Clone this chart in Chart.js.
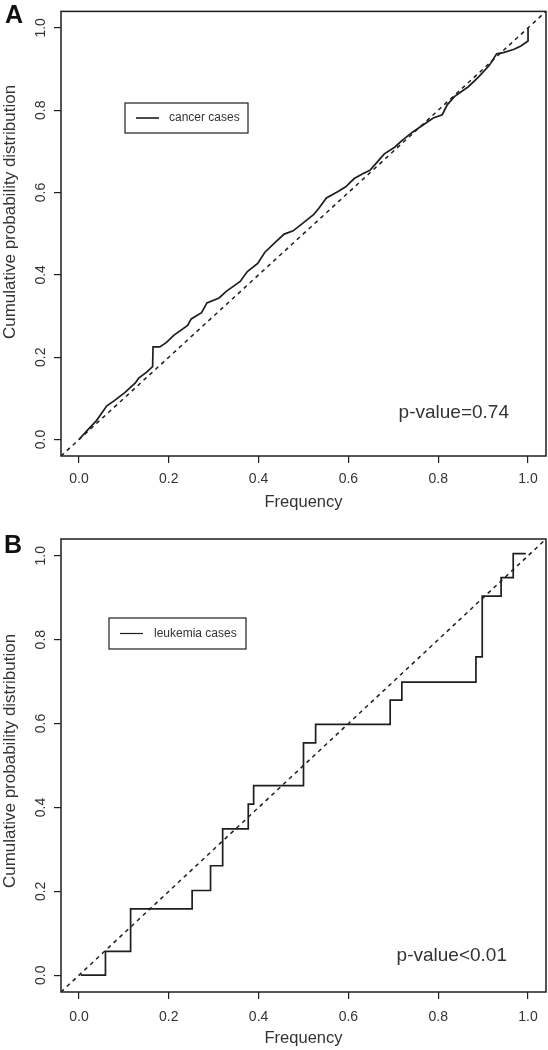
<!DOCTYPE html>
<html>
<head>
<meta charset="utf-8">
<script src="https://cdn.jsdelivr.net/npm/chart.js@4.4.1/dist/chart.umd.min.js"></script>
<style>
  body { margin: 0; background: #fff; }
  .panel { width: 548px; height: 525px; }
</style>
</head>
<body>
<div class="panel"><canvas id="chartA" width="548" height="525"></canvas></div>
<div class="panel"><canvas id="chartB" width="548" height="525"></canvas></div>
<script>
// ticks shared by both panels
const tickVals = [0, 0.2, 0.4, 0.6, 0.8, 1.0]
const tickLabels = ['0.0', '0.2', '0.4', '0.6', '0.8', '1.0']
const diagVals = [-0.04, 1.04]

// panel A - cancer cases
const cancerX = [0, 0.02, 0.039, 0.062, 0.078, 0.102, 0.125, 0.133, 0.15, 0.164, 0.165, 0.18, 0.195, 0.211,
  0.242, 0.25, 0.273, 0.285, 0.312, 0.328, 0.359, 0.375, 0.398, 0.414, 0.437, 0.457, 0.477, 0.5, 0.523,
  0.535, 0.551, 0.578, 0.594, 0.613, 0.633, 0.648, 0.664, 0.68, 0.703, 0.719, 0.742, 0.758, 0.789, 0.809,
  0.82, 0.836, 0.867, 0.89, 0.914, 0.93, 0.945, 0.969, 0.984, 1.0, 1.0]
const cancerY = [0, 0.024, 0.046, 0.082, 0.094, 0.114, 0.137, 0.149, 0.163, 0.177, 0.225, 0.225, 0.236, 0.253,
  0.277, 0.293, 0.308, 0.332, 0.344, 0.36, 0.384, 0.408, 0.428, 0.455, 0.479, 0.499, 0.507, 0.527, 0.547,
  0.563, 0.587, 0.603, 0.614, 0.634, 0.646, 0.654, 0.674, 0.694, 0.71, 0.726, 0.746, 0.758, 0.781, 0.789,
  0.813, 0.833, 0.857, 0.881, 0.909, 0.937, 0.94, 0.948, 0.956, 0.968, 1.0]

// panel B - leukemia cases, step function
const leukX = [0.004, 0.059, 0.115, 0.252, 0.293, 0.320, 0.377, 0.389, 0.500, 0.527, 0.693, 0.719, 0.884,
  0.898, 0.940, 0.967, 0.995]
const leukY = [0, 0.057, 0.158, 0.202, 0.261, 0.349, 0.408, 0.452, 0.554, 0.598, 0.656, 0.699, 0.759,
  0.904, 0.948, 1.005, 1.005]

const FONT = '"Liberation Sans", Arial, Helvetica, sans-serif'
const INK = '#1e1e1e'
const TXT = '#333'

const toPts = (xs, ys) => xs.map((x, i) => ({ x: x, y: ys[i] }))

// box, panel letter, y title, legend and p-value
const decor = {
  id: 'decor',
  afterDraw(chart, args, o) {
    const { ctx, chartArea: a } = chart
    ctx.save()
    ctx.strokeStyle = INK
    ctx.lineWidth = 1.5
    ctx.strokeRect(a.left, a.top, a.right - a.left, a.bottom - a.top)

    ctx.fillStyle = '#111'
    ctx.font = 'bold 25px ' + FONT
    ctx.textAlign = 'center'
    ctx.textBaseline = 'middle'
    ctx.fillText(o.letter, o.letterX, o.letterY)

    // y axis title, rotated like R's ylab
    ctx.save()
    ctx.translate(10, o.yTitleY)
    ctx.rotate(-Math.PI / 2)
    ctx.fillStyle = TXT
    ctx.font = '17px ' + FONT
    ctx.fillText('Cumulative probability distribution', 0, 0)
    ctx.restore()

    ctx.lineWidth = 1.2
    ctx.strokeRect(o.leg[0], o.leg[1], o.leg[2], o.leg[3])
    const my = o.leg[1] + o.leg[3] / 2
    ctx.lineWidth = o.legLw
    ctx.beginPath()
    ctx.moveTo(o.leg[0] + 11, my)
    ctx.lineTo(o.leg[0] + 34, my)
    ctx.stroke()
    ctx.fillStyle = TXT
    ctx.font = '12px ' + FONT
    ctx.textAlign = 'left'
    ctx.fillText(o.legText, o.leg[0] + o.legTextDx, my)

    ctx.font = '19px ' + FONT
    ctx.textAlign = 'right'
    ctx.fillText(o.pText, o.pX, o.pY)
    ctx.restore()
  }
}

const makeChart = (id, lineData, stepped, cfg) => {
  const axisCommon = {
    type: 'linear',
    min: -0.04,
    max: 1.04,
    afterBuildTicks: s => { s.ticks = tickVals.map(v => ({ value: v })) },
    border: { display: false },
    grid: { drawOnChartArea: false, drawTicks: true, tickLength: 7, color: INK, lineWidth: 1.2 },
  }
  return new Chart(document.getElementById(id), {
    type: 'scatter',
    data: {
      datasets: [
        {
          data: toPts(diagVals, diagVals),
          showLine: true,
          borderColor: INK,
          borderWidth: 1.5,
          borderDash: [4, 4],
          pointRadius: 0,
        },
        {
          data: lineData,
          showLine: true,
          stepped: stepped,
          borderColor: INK,
          borderWidth: 1.7,
          pointRadius: 0,
        },
      ]
    },
    options: {
      responsive: false,
      animation: false,
      layout: { padding: { top: cfg.top, right: 2, left: 0, bottom: 0 } },
      plugins: {
        legend: { display: false },
        tooltip: { enabled: false },
        decor: cfg.decor,
      },
      scales: {
        x: Object.assign({}, axisCommon, {
          position: 'bottom',
          afterFit: s => { s.height = cfg.xH },
          ticks: {
            callback: (v, i) => tickLabels[i],
            font: { size: 14, family: FONT },
            color: TXT,
            padding: cfg.xTickPad,
            maxRotation: 0,
          },
          title: {
            display: true,
            text: 'Frequency',
            font: { size: 16.5, family: FONT },
            color: TXT,
            padding: { top: 0, bottom: cfg.xTitlePad },
          },
        }),
        y: Object.assign({}, axisCommon, {
          position: 'left',
          afterFit: s => { s.width = 61 },
          ticks: {
            callback: (v, i) => tickLabels[i],
            font: { size: 14, family: FONT },
            color: TXT,
            padding: 3,
            minRotation: 90,
            maxRotation: 90,
            crossAlign: 'center',
          },
        }),
      },
    },
    plugins: [decor],
  })
}

makeChart('chartA', toPts(cancerX, cancerY), false, {
  top: 2, xH: 69, xTitlePad: 13, xTickPad: 8,
  decor: {
    letter: 'A', letterX: 14, letterY: 16, yTitleY: 212,
    leg: [125, 103, 123, 30], legLw: 1.6, legText: 'cancer cases', legTextDx: 44,
    pText: 'p-value=0.74', pX: 509, pY: 413,
  }
})

makeChart('chartB', toPts(leukX, leukY), 'before', {
  top: 14, xH: 58, xTitlePad: 2, xTickPad: 10,
  decor: {
    letter: 'B', letterX: 13, letterY: 21, yTitleY: 236,
    leg: [109, 93, 137, 31], legLw: 1.2, legText: 'leukemia cases', legTextDx: 45,
    pText: 'p-value<0.01', pX: 507, pY: 431,
  }
})
</script>
</body>
</html>
